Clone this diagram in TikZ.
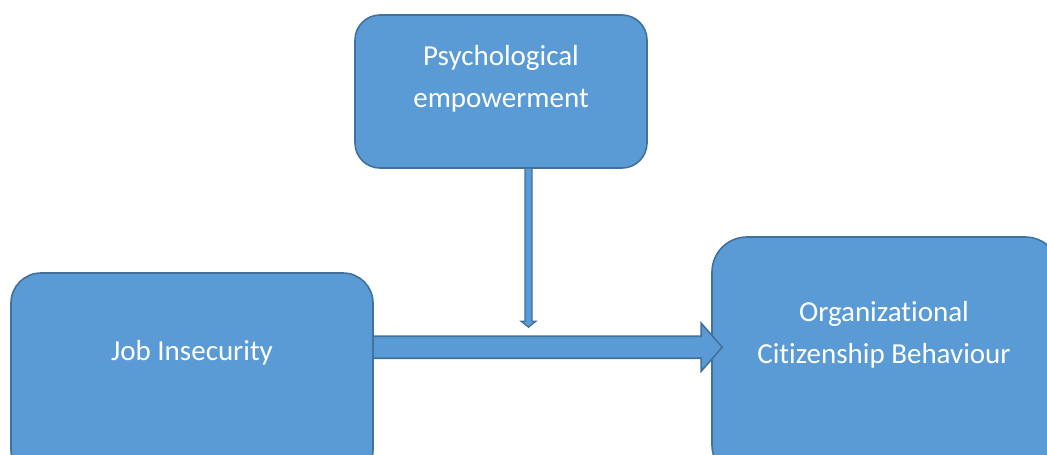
\documentclass[tikz,border=0pt]{standalone}
\usepackage{fontspec}
\setmainfont{Carlito}[Ligatures={NoCommon}]
\usetikzlibrary{calc}
\definecolor{boxfill}{HTML}{5B9BD5}
\definecolor{boxline}{HTML}{41719C}
\begin{document}
\begin{tikzpicture}[x=1pt,y=1pt,
  factor/.style={draw=boxline,fill=boxfill,line width=1.6pt,rectangle},
  caption/.style={text=white,align=center,font=\fontsize{29}{42}\selectfont,inner sep=0pt},
  blockarrow/.style={draw=boxline,fill=boxfill,line width=1.6pt,line join=miter}]
\useasboundingbox (0,0) rectangle (1047,-455);
\clip (0,0) rectangle (1047,-455);

% the three constructs
\node[factor,rounded corners=25pt,minimum width=292pt,minimum height=153pt] (psy) at (501,-91.5) {};
\node[factor,rounded corners=30pt,minimum width=362pt,minimum height=207pt] (job) at (192,-376.5) {};
\node[factor,rounded corners=35pt,minimum width=348pt,minimum height=243pt] (ocb) at (886,-358.5) {};

\node[caption] (psytext) at (501,-79) {Psychological\\empowerment};
\node[caption] (jobtext) at (192,-353) {Job Insecurity};
\node[caption] (ocbtext) at (884,-335) {Organizational\\Citizenship Behaviour};

% main effect: wide block arrow
\coordinate (jstart) at ($(job.north east)+(0,-75)$);
\coordinate (otip) at ($(ocb.west |- jstart)+(11,0)$);
\draw[blockarrow]
  ($(jstart)+(0,11)$) -- ($(otip)+(-21,11)$) -- ($(otip)+(-21,24)$) -- (otip)
  -- ($(otip)+(-21,-24)$) -- ($(otip)+(-21,-11)$) -- ($(jstart)+(0,-11)$);

% moderation: thin arrow from the moderator down onto the main path
\coordinate (pstart) at ($(psy.south)+(27.5,0)$);
\coordinate (mtip) at ($(jstart -| pstart)+(0,20)$);
\draw[blockarrow,line width=1.2pt]
  ($(pstart)+(-3.5,0)$) -- ($(mtip)+(-3.5,6)$) -- ($(mtip)+(-7.5,6)$) -- (mtip)
  -- ($(mtip)+(7.5,6)$) -- ($(mtip)+(3.5,6)$) -- ($(pstart)+(3.5,0)$);
\end{tikzpicture}
\end{document}
